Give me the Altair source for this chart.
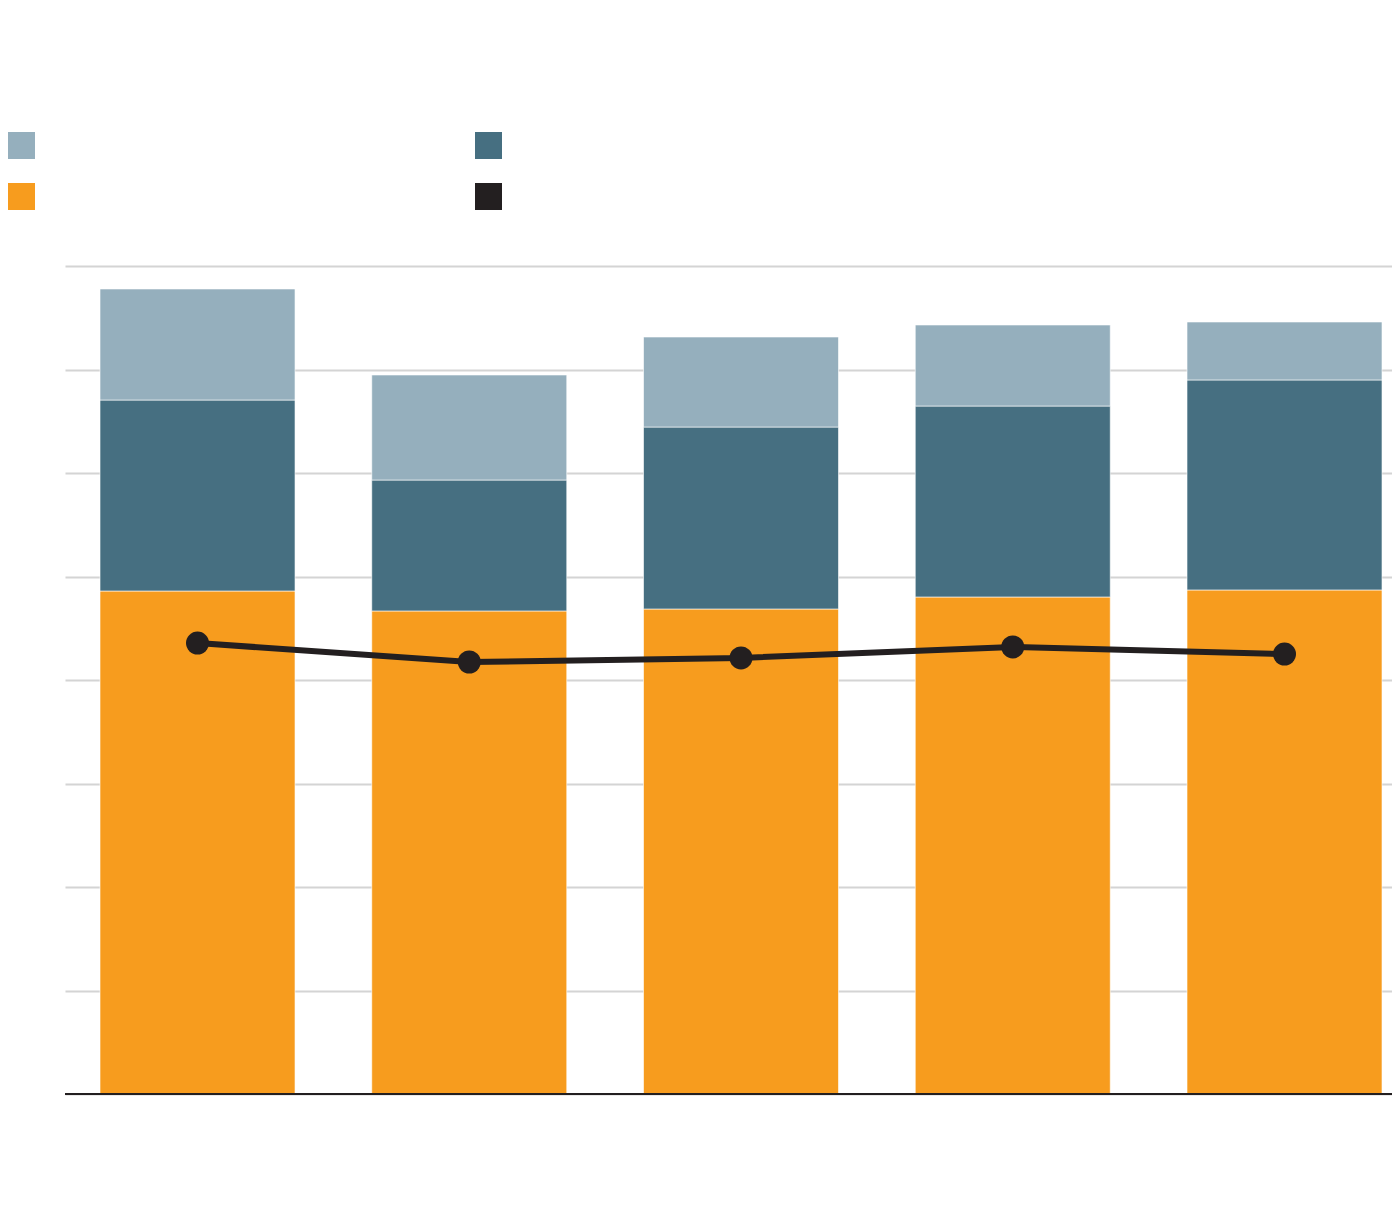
import altair as alt
import pandas as pd

categories = ["A", "B", "C", "D", "E"]
series_names = ["Series 1", "Series 2", "Series 3", "Series 4"]
orange_vals = [48.6, 46.67, 46.86, 48.02, 48.70]
dark_vals = [18.45, 12.65, 17.58, 18.45, 20.29]
light_vals = [10.73, 10.15, 8.70, 7.83, 5.60]
line_vals = [43.57, 41.74, 42.13, 43.19, 42.51]
colors = ["#95AFBD", "#466F81", "#F79C1E", "#231F20"]

rows = []
for i, c in enumerate(categories):
    rows.append({"cat": c, "series": series_names[2], "value": orange_vals[i], "order": 0})
    rows.append({"cat": c, "series": series_names[1], "value": dark_vals[i], "order": 1})
    rows.append({"cat": c, "series": series_names[0], "value": light_vals[i], "order": 2})
bars_df = pd.DataFrame(rows)
line_df = pd.DataFrame({"cat": categories, "value": line_vals, "series": series_names[3]})

x_scale = alt.Scale(domain=categories, paddingInner=0.2824, paddingOuter=0.0828, align=0.778)
y_scale = alt.Scale(domain=[0, 80])
color_scale = alt.Scale(domain=series_names, range=colors)

x_enc = alt.X("cat:N", scale=x_scale, axis=None, sort=categories)

bars = alt.Chart(bars_df).mark_bar(stroke="white", strokeWidth=1, strokeOpacity=0.6).encode(
    x=x_enc,
    y=alt.Y("value:Q", stack="zero", scale=y_scale,
            axis=alt.Axis(values=[0, 10, 20, 30, 40, 50, 60, 70, 80], labels=False, ticks=False,
                          domain=False, grid=True, gridColor="#D4D4D4", gridWidth=2, title=None)),
    color=alt.Color("series:N", scale=color_scale,
                    legend=alt.Legend(orient="none", legendX=-57, legendY=-134, columns=2,
                                      direction="horizontal",
                                      labelExpr="''", labelPadding=0, labelFontSize=1,
                                      title=None, symbolType="square",
                                      symbolSize=729, symbolStrokeWidth=0, symbolOpacity=1,
                                      columnPadding=436, rowPadding=24, padding=0)),
    order=alt.Order("order:Q"),
)

baseline = alt.Chart(pd.DataFrame({"v": [0]})).mark_rule(color="#231F20", strokeWidth=2).encode(
    y=alt.Y("v:Q", scale=y_scale)
)

line = alt.Chart(line_df).mark_line(color="#231F20", strokeWidth=6).encode(
    x=x_enc, y=alt.Y("value:Q", scale=y_scale)
)
points = alt.Chart(line_df).mark_circle(color="#231F20", size=530, opacity=1).encode(
    x=x_enc, y=alt.Y("value:Q", scale=y_scale)
)

chart = alt.layer(bars, baseline, line, points).properties(
    width=1327, height=828,
    background="white",
    padding={"left": 57, "top": 258, "right": 0, "bottom": 100},
    autosize=alt.AutoSizeParams(type="none"),
).configure_view(strokeWidth=0, stroke="transparent")

chart.save("out.html", embed_options={"renderer": "svg", "actions": False})
